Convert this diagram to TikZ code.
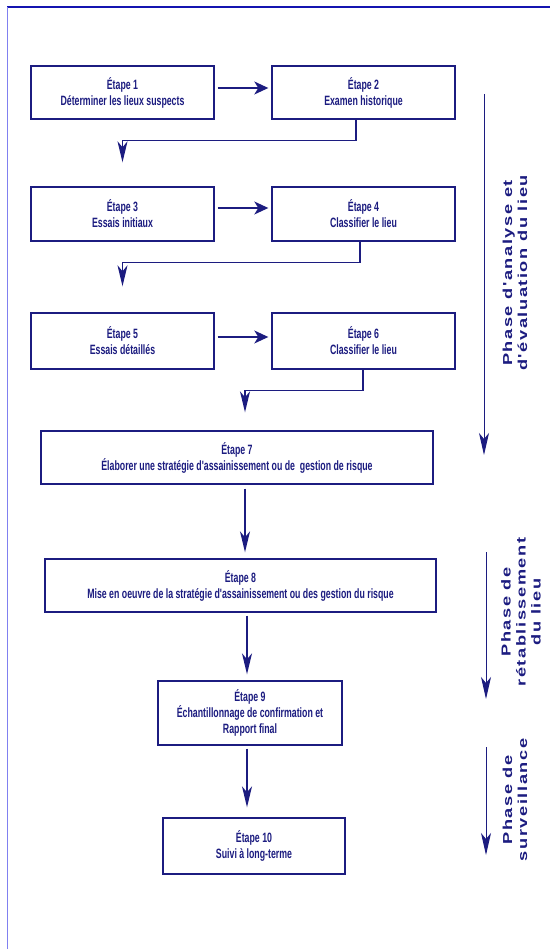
\documentclass[tikz,border=0pt]{standalone}
\usepackage{fontspec}
\setmainfont{Liberation Sans}
\newfontfamily\boxfont[FakeStretch=0.65]{Liberation Sans}
\newfontfamily\phasefont[FakeStretch=1.4,LetterSpace=12]{Liberation Sans}
\usetikzlibrary{arrows.meta,calc}
\definecolor{navy}{HTML}{1C1C80}
\definecolor{frametop}{HTML}{1414B0}
\definecolor{frameleft}{HTML}{8080F0}
\begin{document}
\begin{tikzpicture}[x=1pt,y=-1pt,
  stepbox/.style={draw=navy,line width=1.4pt,inner sep=0pt,align=center,text=navy,
    font=\boxfont\bfseries\fontsize{13.5}{16}\selectfont},
  harr/.style={draw=navy,line width=1.4pt,-{Stealth[length=14pt,width=13pt,inset=4pt]}},
  varr/.style={draw=navy,line width=1.4pt,-{Stealth[length=21pt,width=10pt,inset=6pt]}},
  phasearr/.style={draw=navy,line width=1pt,-{Stealth[length=22pt,width=10pt,inset=6pt]}},
  phasetxt/.style={rotate=90,align=center,text=navy,inner sep=0pt,
    font=\phasefont\bfseries\fontsize{13}{15}\selectfont}]
\useasboundingbox (0,0) rectangle (550,949);
\fill[white] (0,0) rectangle (550,949);
% frame
\coordinate (fc) at (7,7);
\coordinate (fr) at (550,7);
\coordinate (fb) at (7,949);
\draw[frametop,line width=1.2pt] (fc) -- (fr);
\draw[frameleft,line width=1pt] (fc) -- (fb);
% boxes
\node[stepbox,minimum width=183pt,minimum height=53pt] (b1) at (122.5,92.5) {Étape 1\\Déterminer les lieux suspects};
\node[stepbox,minimum width=183pt,minimum height=53pt] (b2) at (363.5,92.5) {Étape 2\\Examen historique};
\node[stepbox,minimum width=183pt,minimum height=54pt] (b3) at (122.5,214) {Étape 3\\Essais initiaux};
\node[stepbox,minimum width=183pt,minimum height=54pt] (b4) at (363.5,214) {Étape 4\\Classifier le lieu};
\node[stepbox,minimum width=183pt,minimum height=56pt] (b5) at (122.5,341) {Étape 5\\Essais détaillés};
\node[stepbox,minimum width=183pt,minimum height=56pt] (b6) at (363.5,341) {Étape 6\\Classifier le lieu};
\node[stepbox,minimum width=392pt,minimum height=53pt] (b7) at (237,457.5) {Étape 7\\Élaborer une stratégie d'assainissement ou de\ \ gestion de risque};
\node[stepbox,minimum width=391pt,minimum height=53pt] (b8) at (240.5,585.5) {Étape 8\\Mise en oeuvre de la stratégie d'assainissement ou des gestion du risque};
\node[stepbox,minimum width=184pt,minimum height=64pt] (b9) at (250,713) {Étape 9\\Échantillonnage de confirmation et\\Rapport final};
\node[stepbox,minimum width=182pt,minimum height=56pt] (b10) at (254,846) {Étape 10\\Suivi à long-terme};
% horizontal arrows
\draw[harr] ([xshift=3pt,yshift=4.5pt]b1.east) -- ([xshift=-3pt,yshift=4.5pt]b2.west);
\draw[harr] ([xshift=3pt,yshift=6pt]b3.east) -- ([xshift=-3pt,yshift=6pt]b4.west);
\draw[harr] ([xshift=3pt,yshift=4pt]b5.east) -- ([xshift=-3pt,yshift=4pt]b6.west);
% elbow arrows
\draw[varr] ([xshift=-7.5pt]b2.south) -- ++(0,21) -| ([yshift=24pt]b3.north);
\draw[varr] ([xshift=-3.5pt]b4.south) -- ++(0,21) -| ([yshift=26pt]b5.north);
\draw[varr] ([xshift=-0.5pt]b6.south) -- ++(0,21) -| ([xshift=8pt,yshift=18pt]b7.north);
% vertical arrows
\draw[varr] ([xshift=8pt,yshift=-4pt]b7.south) -- ([xshift=4.5pt,yshift=6pt]b8.north);
\draw[varr] ([xshift=6.5pt,yshift=-3pt]b8.south) -- ([xshift=-3pt,yshift=6pt]b9.north);
\draw[varr] ([xshift=-3pt,yshift=-3pt]b9.south) -- ([xshift=-7pt,yshift=10pt]b10.north);
% phase arrows
\coordinate (p1a) at (484,94);
\coordinate (p1b) at (484,455);
\coordinate (p2a) at (486,552);
\coordinate (p2b) at (486,699);
\coordinate (p3a) at (486,747);
\coordinate (p3b) at (486,855);
\draw[phasearr] (p1a) -- (p1b);
\draw[phasearr] (p2a) -- (p2b);
\draw[phasearr] (p3a) -- (p3b);
% phase labels
\node[phasetxt] (t1) at (515,273) {Phase d'analyse et\\d'évaluation du lieu};
\node[phasetxt] (t2) at (521,612) {Phase de\\rétablissement\\du lieu};
\node[phasetxt] (t3) at (515,800) {Phase de\\surveillance};
\end{tikzpicture}
\end{document}
